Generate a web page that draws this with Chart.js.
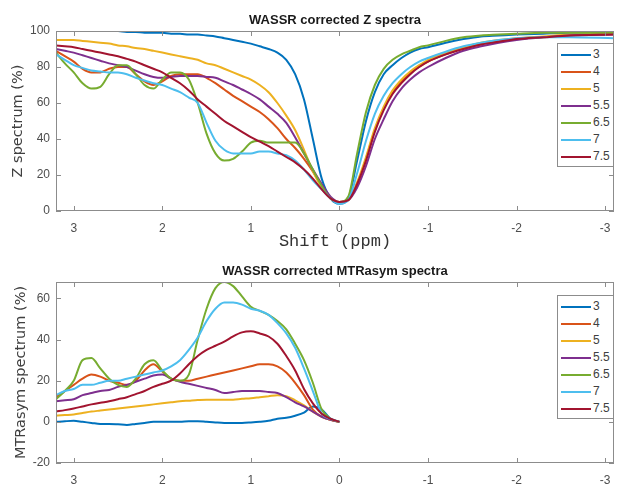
<!DOCTYPE html>
<html>
<head>
<meta charset="utf-8">
<script src="https://cdn.jsdelivr.net/npm/chart.js@4.4.1/dist/chart.umd.min.js"></script>
<style>
    body { margin: 0; background: #fff; }
    #fig { position: relative; width: 618px; height: 485px; }
    .panel { position: absolute; left: 0; width: 618px; }
    .legend {
        position: absolute; left: 557px; width: 57px; height: 124px;
        box-sizing: border-box; border: 1px solid #8c8c8c; background: #fff;
        padding-top: 2px;
        font: 12px "Liberation Sans Narrow", "Liberation Sans", Arial, sans-serif; color: #404040;
    }
    .legend .row { position: relative; height: 17px; line-height: 17px; padding-left: 35px; white-space: nowrap; }
    .legend .swatch { position: absolute; left: 3px; top: 8px; width: 30px; height: 2px; }
</style>
</head>
<body>
<div id="fig">
    <div class="panel" style="top:0;height:250px">
        <canvas id="zChart"></canvas>
        <div class="legend" id="zLegend" style="top:43px"></div>
    </div>
    <div class="panel" style="top:250px;height:235px">
        <canvas id="mChart"></canvas>
        <div class="legend" id="mLegend" style="top:45px"></div>
    </div>
</div>
<script>
// pH values of the series
const seriesLabels = ['3', '4', '5', '5.5', '6.5', '7', '7.5'];
const seriesColors = ['#0072BD', '#D95319', '#EDB120', '#7E2F8E', '#77AC30', '#4DBEEE', '#A2142F'];

const xTicks = [3, 2, 1, 0, -1, -2, -3];
const zTicks = [0, 20, 40, 60, 80, 100];
const mTicks = [-20, 0, 20, 40, 60];

// Z spectra (%)
const zShift = [3.2, 3.1, 3.0, 2.9, 2.8, 2.7, 2.6, 2.5, 2.4, 2.3, 2.2, 2.1, 2.0, 1.9, 1.8, 1.7, 1.6,
    1.5, 1.4, 1.3, 1.2, 1.1, 1.0, 0.9, 0.8, 0.7, 0.6, 0.5, 0.4, 0.3, 0.2, 0.1, 0,
    -0.1, -0.2, -0.3, -0.4, -0.5, -0.6, -0.7, -0.8, -0.9, -1.0, -1.2, -1.4, -1.6, -1.8, -2.0, -2.3, -2.6, -3.1];
const z3 = [100, 100, 100, 100, 100, 100, 100, 100, 99.5, 99.5, 99, 99, 99, 98.5, 98.5, 98, 98,
    97.5, 97, 96, 95, 94, 93, 91.5, 90, 88, 84, 76, 62, 40, 18, 7, 4,
    7, 28, 50, 66, 76, 81, 85, 88, 90, 91, 93.5, 95.5, 97, 97.5, 98, 98.5, 99, 99];
const z4 = [89, 86, 83, 79, 77, 77, 79, 80, 80, 76, 72, 70, 72, 75, 76, 76, 76,
    74, 71, 67.5, 64, 61, 58, 55, 51, 46, 40, 35, 29, 22, 14, 7, 5,
    6, 15, 29, 45, 57, 66, 72, 77, 80, 83, 87, 90.5, 93, 94.5, 95.5, 96.5, 97.5, 98.5];
const z5 = [95, 95, 95, 94.5, 94, 93.5, 93, 92, 91.5, 90.5, 90, 89, 88, 87, 86, 85, 84,
    82, 81, 79, 77, 75, 73, 70, 66, 60, 53, 45, 34, 22, 13, 7, 5,
    6, 16, 30, 46, 58, 67, 73, 77.5, 81, 84, 88, 91, 93.5, 95, 96, 97, 98, 98.5];
const z55 = [90, 89, 88, 86.5, 85, 83.5, 82, 81, 80, 78, 76, 74.5, 74, 74.5, 75, 75, 75,
    74.5, 74, 72, 70, 67.5, 65, 62, 58, 54, 49, 41, 32, 23, 15, 8, 5,
    6, 13, 25, 40, 51, 61, 68, 73, 77, 80, 85, 89, 91.5, 93.5, 95, 96.5, 97.5, 98];
const z65 = [88, 82, 77, 71, 68, 69, 76, 81, 81, 76, 70, 68, 73, 77, 77, 73, 60,
    43, 32, 28, 29, 33, 38, 39, 38, 38, 38, 38, 32, 23, 14, 7, 5,
    8, 32, 55, 70, 79, 84, 87, 89, 91, 92, 94.5, 96.5, 97.5, 98, 98.5, 99, 99, 99];
const z7 = [87, 84, 81, 79.5, 78, 77.5, 77, 77, 76, 74, 72.5, 71, 70, 68, 66, 63, 60,
    49, 39, 34, 32, 32, 32, 33, 33, 32, 31, 28, 23, 17, 12, 7, 4,
    6, 21, 39, 54, 64, 71, 76, 80, 83, 85, 88.5, 91.5, 93.5, 95, 96, 96.5, 96.5, 96];
const z75 = [92, 91.5, 91, 90, 89, 88, 87, 86, 84.5, 83, 81, 79, 77, 74, 71, 67, 62,
    58, 54, 50, 47, 44, 41, 38.5, 36, 33, 30, 27, 23, 18, 12, 7, 5,
    6, 15, 28, 44, 56, 65, 71, 76, 80, 83, 87, 90, 92.5, 94, 95.5, 96.5, 97.5, 98];

// MTRasym spectra (%)
const mShift = [3.2, 3.1, 3.0, 2.9, 2.8, 2.7, 2.6, 2.5, 2.4, 2.3, 2.2, 2.1, 2.0, 1.9, 1.8, 1.7, 1.6,
    1.5, 1.4, 1.3, 1.2, 1.1, 1.0, 0.9, 0.8, 0.7, 0.6, 0.5, 0.4, 0.3, 0.2, 0.1, 0];
const m3 = [0, 0.3, 0.5, 0, -0.5, -1, -1, -1.2, -1.5, -1, -0.5, 0, 0, 0, 0, 0.3, 0.3,
    0, -0.3, -0.5, -0.5, -0.5, -0.3, 0, 0.5, 1.5, 2, 3, 4.5, 7.5, 6, 1.5, 0];
const m4 = [12, 15, 18, 21, 23, 22, 20, 19, 18, 20, 25, 28, 24.5, 21, 20, 20, 21,
    22, 23, 24, 25, 26, 27, 28, 28, 27, 24, 19, 13, 6, 2.5, 1, 0];
const m5 = [3, 3.3, 3.6, 4.3, 5, 5.5, 6, 6.5, 7, 7.5, 8, 8.5, 9, 9.5, 10, 10.3, 10.6,
    10.8, 10.8, 10.7, 10.8, 11.2, 11.5, 12, 12.5, 13, 12.5, 10.5, 8, 5, 2.5, 1, 0];
const m55 = [10, 10.5, 11, 13, 14, 15, 15.5, 17, 18, 19.5, 21, 22.5, 23, 21, 19.5, 18.5, 17.5,
    16.5, 15.5, 14, 14.5, 15, 15, 15, 14.5, 14, 12, 9.5, 7.5, 5, 2.5, 1, 0];
const m65 = [11, 15, 20, 30, 31, 26, 21, 18, 17, 21, 28, 30, 25, 21, 20, 23, 40,
    55, 65, 68, 66, 61, 56, 54, 52, 49, 45, 38, 30, 19, 6, 1.5, 0];
const m7 = [13, 15, 16, 18, 18, 19, 20, 20, 21, 22, 23, 24, 25, 27, 30, 35, 41,
    49, 55, 58, 58, 57, 55, 54, 52, 48, 43, 36, 26, 15, 4, 1.5, 0];
const m75 = [5, 5.7, 6.5, 7.5, 8.5, 9.3, 10, 11, 12, 13.5, 15, 17, 18.5, 20, 23.5, 28, 32,
    35, 37, 39, 41.6, 43.5, 44, 43, 41.5, 38, 32, 25, 16, 9, 4, 1.5, 0];

const zSeries = [z3, z4, z5, z55, z65, z7, z75];
const mSeries = [m3, m4, m5, m55, m65, m7, m75];

Chart.defaults.font.family = '"Liberation Sans", Arial, sans-serif';
Chart.defaults.font.size = 12;
Chart.defaults.color = '#4d4d4d';

// MATLAB style box, inward ticks and a title centred on the plot area
const matlabAxes = {
    id: 'matlabAxes',
    afterDatasetsDraw(chart, args, opts) {
        const { ctx, chartArea: a, scales: { x, y } } = chart;
        ctx.save();
        ctx.strokeStyle = '#8c8c8c';
        ctx.lineWidth = 1;
        ctx.strokeRect(a.left + 0.5, a.top + 0.5, a.width - 1, a.height - 1);
        ctx.beginPath();
        x.ticks.forEach(t => {
            const px = Math.round(x.getPixelForValue(t.value)) + 0.5;
            ctx.moveTo(px, a.bottom); ctx.lineTo(px, a.bottom - 5);
            ctx.moveTo(px, a.top); ctx.lineTo(px, a.top + 5);
        });
        y.ticks.forEach(t => {
            const py = Math.round(y.getPixelForValue(t.value)) + 0.5;
            ctx.moveTo(a.left, py); ctx.lineTo(a.left + 5, py);
            ctx.moveTo(a.right, py); ctx.lineTo(a.right - 5, py);
        });
        ctx.stroke();
        ctx.fillStyle = '#1a1a1a';
        ctx.font = 'bold 13px "Liberation Sans", Arial, sans-serif';
        ctx.textAlign = 'center';
        ctx.textBaseline = 'middle';
        ctx.fillText(opts.text, (a.left + a.right) / 2, a.top - 11);
        ctx.restore();
    },
};

function makeChart(canvasId, shift, series, cfg) {
    const datasets = series.map((values, i) => ({
        label: seriesLabels[i],
        data: values.map((v, j) => ({ x: shift[j], y: v })),
        borderColor: seriesColors[i],
        backgroundColor: seriesColors[i],
        borderWidth: 2,
        pointRadius: 0,
        cubicInterpolationMode: 'monotone',
        order: series.length - i,
    }));

    return new Chart(document.getElementById(canvasId), {
        type: 'line',
        data: { datasets },
        options: {
            responsive: true,
            maintainAspectRatio: false,
            animation: false,
            events: [],
            layout: { padding: { top: cfg.top, right: 4, left: 0, bottom: 0 } },
            plugins: {
                legend: { display: false },
                tooltip: { enabled: false },
                matlabAxes: { text: cfg.title },
            },
            scales: {
                x: {
                    type: 'linear',
                    reverse: true,
                    min: -3.1,
                    max: 3.2,
                    grid: { display: false, drawTicks: true, tickLength: 7 },
                    border: { display: false },
                    ticks: { padding: 3, color: '#4d4d4d' },
                    afterBuildTicks: s => { s.ticks = xTicks.map(v => ({ value: v })); },
                    afterFit: s => { s.height = cfg.xHeight; },
                    title: {
                        display: !!cfg.xTitle,
                        text: cfg.xTitle,
                        color: '#333',
                        font: { family: '"Liberation Mono", "DejaVu Sans Mono", monospace', size: 17, lineHeight: 1 },
                        padding: { top: 0, bottom: 0 },
                    },
                },
                y: {
                    min: cfg.yMin,
                    max: cfg.yMax,
                    grid: { display: false, drawTicks: true, tickLength: 3 },
                    border: { display: false },
                    ticks: { padding: 3, color: '#4d4d4d' },
                    afterBuildTicks: s => { s.ticks = cfg.yTicks.map(v => ({ value: v })); },
                    afterFit: s => { s.width = 56; },
                    title: {
                        display: true,
                        text: cfg.yTitle,
                        color: '#404040',
                        font: { family: '"DejaVu Sans", sans-serif', size: 14.5 },
                        padding: { top: cfg.yTitlePad, bottom: 0 },
                    },
                },
            },
        },
        plugins: [matlabAxes],
    });
}

function buildLegend(id) {
    const box = document.getElementById(id);
    seriesLabels.forEach((label, i) => {
        const row = document.createElement('div');
        row.className = 'row';
        row.innerHTML = `<span class="swatch" style="background:${seriesColors[i]}"></span>${label}`;
        box.appendChild(row);
    });
}

makeChart('zChart', zShift, zSeries, {
    title: 'WASSR corrected Z spectra',
    top: 31, xHeight: 39, xTitle: 'Shift (ppm)',
    yMin: 0, yMax: 100, yTicks: zTicks,
    yTitle: 'Z spectrum (%)', yTitlePad: 10,
});

makeChart('mChart', mShift, mSeries, {
    title: 'WASSR corrected MTRasym spectra',
    top: 32, xHeight: 22, xTitle: '',
    yMin: -20, yMax: 68, yTicks: mTicks,
    yTitle: 'MTRasym spectrum (%)', yTitlePad: 13,
});

buildLegend('zLegend');
buildLegend('mLegend');
</script>
</body>
</html>
